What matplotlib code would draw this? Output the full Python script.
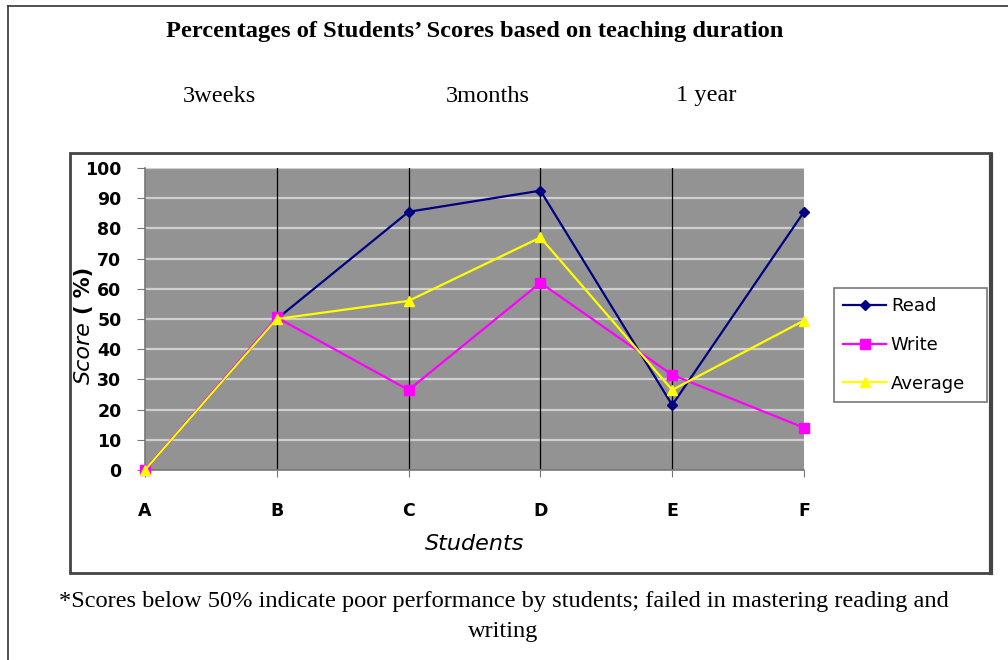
import matplotlib
matplotlib.use('Agg')

import numpy as np
import matplotlib.pyplot as plt
from matplotlib.patches import Rectangle
from matplotlib.lines import Line2D

# data
students = ['A', 'B', 'C', 'D', 'E', 'F']
read = [0, 50, 85.5, 92.5, 21.5, 85.5]
write = [0, 50.5, 26.5, 62, 31.5, 14]
average = [0, 50, 56, 77, 26.5, 49.5]
periods = ['3weeks', '3months', '1 year']

serif = 'Liberation Serif'
sans = 'DejaVu Sans'

W, H = 1008, 660
fig = plt.figure(figsize=(W/100, H/100), dpi=100)
fig.patch.set_facecolor('white')

# outer frame (left + top only visible)
fig.add_artist(Line2D([8/W, 8/W], [0, 1 - 6/H], color='#333333', lw=1.2))
fig.add_artist(Line2D([8/W, 1], [1 - 6/H, 1 - 6/H], color='#333333', lw=1.2))

# chart box
fig.add_artist(Rectangle((70/W, 1 - 573/H), (991 - 70)/W, (573 - 153)/H,
                         transform=fig.transFigure, fill=False,
                         edgecolor='#444444', lw=2))
fig.add_artist(Line2D([991/W, 991/W], [1 - 573/H, 1 - 155/H],
                      color='#444444', lw=3))

fig.text(475/W, 1 - 31/H,
         "Percentages of Students\u2019 Scores based on teaching duration",
         ha='center', va='center', family=serif, weight='bold', fontsize=17.6)
for xp, lab in zip([219, 488, 706], periods):
    fig.text(xp/W, 1 - 96/H, lab, ha='center', va='center',
             family=serif, fontsize=17.6)

fig.text(504/W, 1 - 602/H,
         "*Scores below 50% indicate poor performance by students; failed in mastering reading and",
         ha='center', va='center', family=serif, fontsize=17.6)
fig.text(503/W, 1 - 631/H, "writing", ha='center', va='center',
         family=serif, fontsize=17.6)

ax = fig.add_axes([145/W, 1 - 470/H, (804 - 145)/W, (470 - 168)/H])
ax.set_facecolor('#939393')
x = np.arange(len(students))

for yv in range(10, 101, 10):
    ax.axhline(yv, color='#d0d0d0', lw=1.6, zorder=1)
for xv in x[1:-1]:
    ax.axvline(xv, color='black', lw=0.9, zorder=1)

ax.plot(x, read, color='#000080', marker='D', markersize=5, lw=1.6,
        label='Read', zorder=3, clip_on=False)
ax.plot(x, write, color='#FF00FF', marker='s', markersize=7, lw=1.6,
        label='Write', zorder=4, clip_on=False)
ax.plot(x, average, color='#FFFF00', marker='^', markersize=7, lw=1.6,
        label='Average', zorder=5, clip_on=False)

ax.set_xlim(0, 5)
ax.set_ylim(0, 100)
ax.set_yticks(range(0, 101, 10))
ax.set_xticks(x)
ax.set_xticklabels(students)
for s in ['top', 'right']:
    ax.spines[s].set_visible(False)
ax.spines['left'].set_color('#777777')
ax.spines['bottom'].set_color('#777777')
ax.spines['left'].set_linewidth(1.2)
ax.spines['bottom'].set_linewidth(1.2)
ax.tick_params(axis='y', length=6, color='#777777', pad=11)
ax.tick_params(axis='x', length=5, color='#777777', pad=18)
for lab in ax.get_xticklabels() + ax.get_yticklabels():
    lab.set_family(sans)
    lab.set_weight('bold')
    lab.set_fontsize(12.5)

ax.set_xlabel('Students', family=sans, style='italic', fontsize=16, labelpad=10)
fig.text(84/W, 1 - 353/H, 'Score', rotation=90, ha='center', va='center',
         family=sans, style='italic', fontsize=16)
fig.text(84/W, 1 - 290/H, '( %)', rotation=90, ha='center', va='center',
         family=sans, weight='bold', fontsize=15)

leg = ax.legend(loc='center', bbox_to_anchor=(834/W, 1 - 403/H,
                                              (987 - 834)/W, (403 - 287)/H),
                bbox_transform=fig.transFigure, fancybox=False, frameon=True,
                mode='expand', edgecolor='#555555',
                prop={'family': sans, 'size': 13},
                labelspacing=1.15, handlelength=2.4, handletextpad=0.25,
                borderaxespad=0, borderpad=0.5)
leg.get_frame().set_linewidth(1.2)

fig.savefig('out.png', dpi=100)
